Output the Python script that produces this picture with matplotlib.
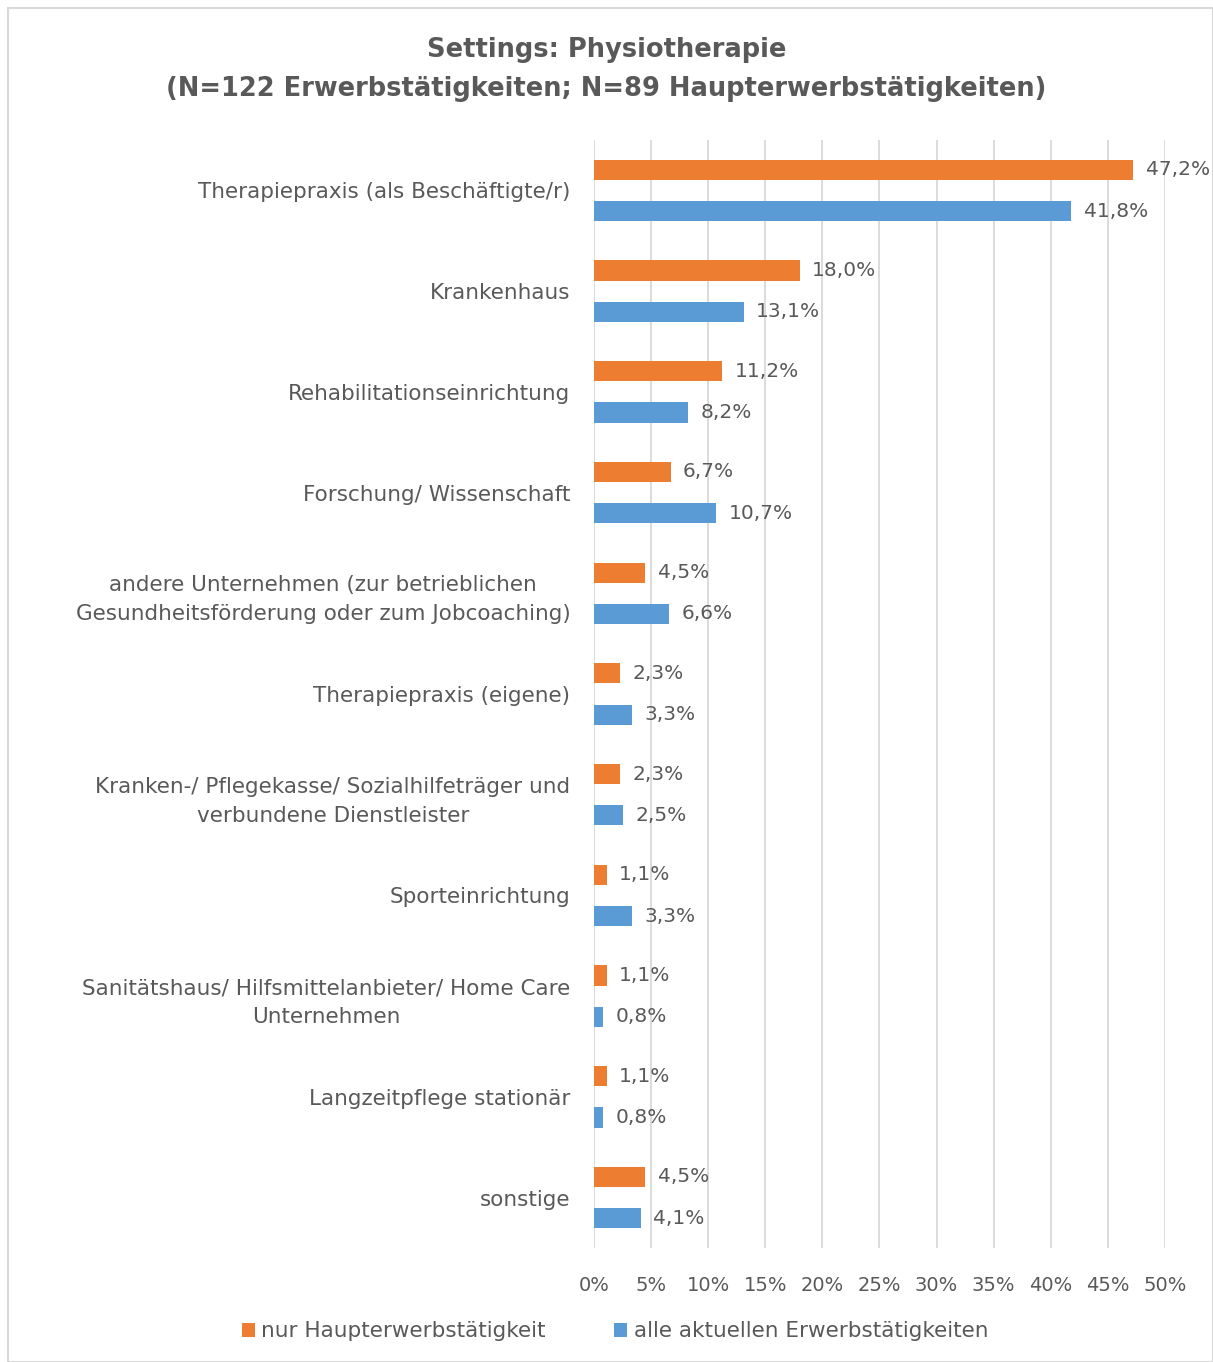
import matplotlib.pyplot as plt
import numpy as np
from matplotlib.patches import Rectangle

plt.rcParams['font.family'] = ['DejaVu Sans']

# data
categories = [
    'Therapiepraxis (als Beschäftigte/r)',
    'Krankenhaus',
    'Rehabilitationseinrichtung',
    'Forschung/ Wissenschaft',
    'andere Unternehmen (zur betrieblichen\nGesundheitsförderung oder zum Jobcoaching)',
    'Therapiepraxis (eigene)',
    'Kranken-/ Pflegekasse/ Sozialhilfeträger und\nverbundene Dienstleister',
    'Sporteinrichtung',
    'Sanitätshaus/ Hilfsmittelanbieter/ Home Care\nUnternehmen',
    'Langzeitpflege stationär',
    'sonstige',
]
haupt = [47.2, 18.0, 11.2, 6.7, 4.5, 2.3, 2.3, 1.1, 1.1, 1.1, 4.5]
alle = [41.8, 13.1, 8.2, 10.7, 6.6, 3.3, 2.5, 3.3, 0.8, 0.8, 4.1]
series_names = ['nur Haupterwerbstätigkeit', 'alle aktuellen Erwerbstätigkeiten']
ticks = np.arange(0, 51, 5)

ORANGE = '#ED7D31'
BLUE = '#5B9BD5'
TEXT = '#595959'
GRID = '#D9D9D9'

fig = plt.figure(figsize=(12.13, 13.62), dpi=100)
ax = fig.add_axes([0.4897, 0.0837, 0.4707, 0.8135])

y = np.arange(len(categories))
off = 0.205
h = 0.2
b1 = ax.barh(y - off, haupt, height=h, color=ORANGE, label=series_names[0], zorder=3)
b2 = ax.barh(y + off, alle, height=h, color=BLUE, label=series_names[1], zorder=3)

for bars, vals in ((b1, haupt), (b2, alle)):
    for bar, v in zip(bars, vals):
        ax.text(v + 1.1, bar.get_y() + bar.get_height() / 2,
                f'{v:.1f}%'.replace('.', ','), va='center', ha='left',
                fontsize=14.5, color=TEXT)

ax.set_xlim(0, 50)
ax.set_ylim(len(categories) - 0.5, -0.5)
ax.set_xticks(ticks)
ax.set_xticklabels([f'{t}%' for t in ticks], fontsize=14, color=TEXT)
ax.set_yticks(y)
ax.set_yticklabels(categories, fontsize=15.5, color=TEXT, ha='right',
                   multialignment='center', linespacing=1.55)
ax.tick_params(axis='both', length=0)
ax.tick_params(axis='x', pad=20)
ax.tick_params(axis='y', pad=17)
ax.grid(axis='x', color=GRID, linewidth=1.3, zorder=0)
for s in ax.spines.values():
    s.set_visible(False)

fig.text(0.5, 0.963, 'Settings: Physiotherapie', ha='center', va='center',
         fontsize=18.5, fontweight='bold', color=TEXT)
fig.text(0.5, 0.935, '(N=122 Erwerbstätigkeiten; N=89 Haupterwerbstätigkeiten)',
         ha='center', va='center', fontsize=18.5, fontweight='bold', color=TEXT)

fig.legend(handles=[b1, b2], loc='center', bbox_to_anchor=(0.507, 0.0225), ncol=2,
           frameon=False, fontsize=15.5, labelcolor=TEXT, handlelength=0.6,
           handleheight=0.6, handletextpad=0.3, columnspacing=3.2)

fig.add_artist(Rectangle((0.0066, 0.0), 0.9934, 0.994, transform=fig.transFigure,
                         fill=False, edgecolor=GRID, linewidth=1.5))

fig.savefig('out.png', dpi=100)
